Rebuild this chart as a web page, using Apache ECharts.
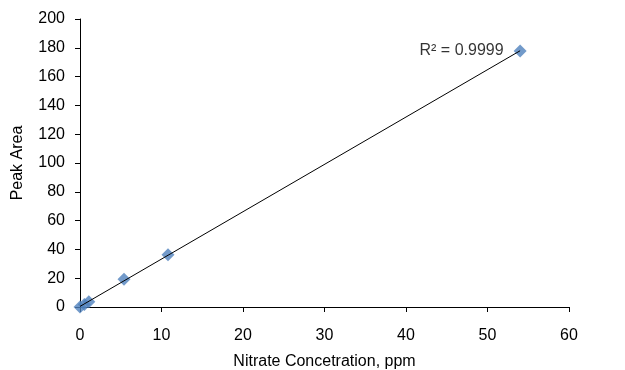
<!DOCTYPE html>
<html>
<head>
<meta charset="utf-8">
<script src="https://cdn.jsdelivr.net/npm/echarts@6/dist/echarts.min.js"></script>
<style>
  html, body { margin: 0; padding: 0; background: #fff; }
  #chart { width: 625px; height: 370px; }
</style>
</head>
<body>
<div id="chart"></div>
<script>
// calibration data
const concentration = [0, 0.54, 1.08, 5.4, 10.8, 54];
const peakArea = [0, 1.8, 3.6, 19.2, 36.2, 177.8];
const r2Text = 'R² = 0.9999';

// least squares trend line
const n = concentration.length;
const mx = concentration.reduce((a, b) => a + b, 0) / n;
const my = peakArea.reduce((a, b) => a + b, 0) / n;
let sxy = 0, sxx = 0;
for (let i = 0; i < n; i++) {
  sxy += (concentration[i] - mx) * (peakArea[i] - my);
  sxx += (concentration[i] - mx) * (concentration[i] - mx);
}
const slope = sxy / sxx;
const intercept = my - slope * mx;
const xMin = Math.min(...concentration);
const xMax = Math.max(...concentration);
const trend = [[xMin, intercept + slope * xMin], [xMax, intercept + slope * xMax]];

const points = concentration.map((x, i) => [x, peakArea[i]]);

const chart = echarts.init(document.getElementById('chart'));
const font = 'Liberation Sans, Arial, sans-serif';
const axisCommon = {
  axisLine: { lineStyle: { color: '#000', width: 1 } },
  axisTick: { show: true, inside: false, length: 5, lineStyle: { color: '#000' } },
  splitLine: { show: false },
  axisLabel: { color: '#000', fontSize: 16, fontFamily: font },
  nameTextStyle: { color: '#000', fontSize: 16, fontFamily: font }
};

chart.setOption({
  animation: false,
  grid: { left: 80, right: 56, top: 19, bottom: 63, containLabel: false, outerBoundsMode: 'none' },
  xAxis: Object.assign({}, axisCommon, {
    type: 'value', min: 0, max: 60, interval: 10,
    name: 'Nitrate Concetration, ppm', nameLocation: 'middle', nameGap: 47,
    axisLabel: Object.assign({}, axisCommon.axisLabel, { margin: 21 })
  }),
  yAxis: Object.assign({}, axisCommon, {
    type: 'value', min: 0, max: 200, interval: 20,
    name: 'Peak Area', nameLocation: 'middle', nameGap: 54, nameRotate: 90,
    axisLabel: Object.assign({}, axisCommon.axisLabel, { margin: 15 })
  }),
  series: [
    {
      type: 'line',
      data: trend,
      symbol: 'none',
      lineStyle: { color: '#000', width: 1 },
      z: 3
    },
    {
      type: 'scatter',
      data: points,
      symbol: 'diamond',
      symbolSize: [13, 13],
      itemStyle: { color: '#4F81BD' },
      z: 2,
      label: {
        show: true,
        position: 'left',
        distance: 10,
        color: '#000',
        fontSize: 16,
        fontFamily: font,
        formatter: (p) => p.dataIndex === n - 1 ? r2Text : ''
      }
    }
  ]
});
</script>
</body>
</html>
